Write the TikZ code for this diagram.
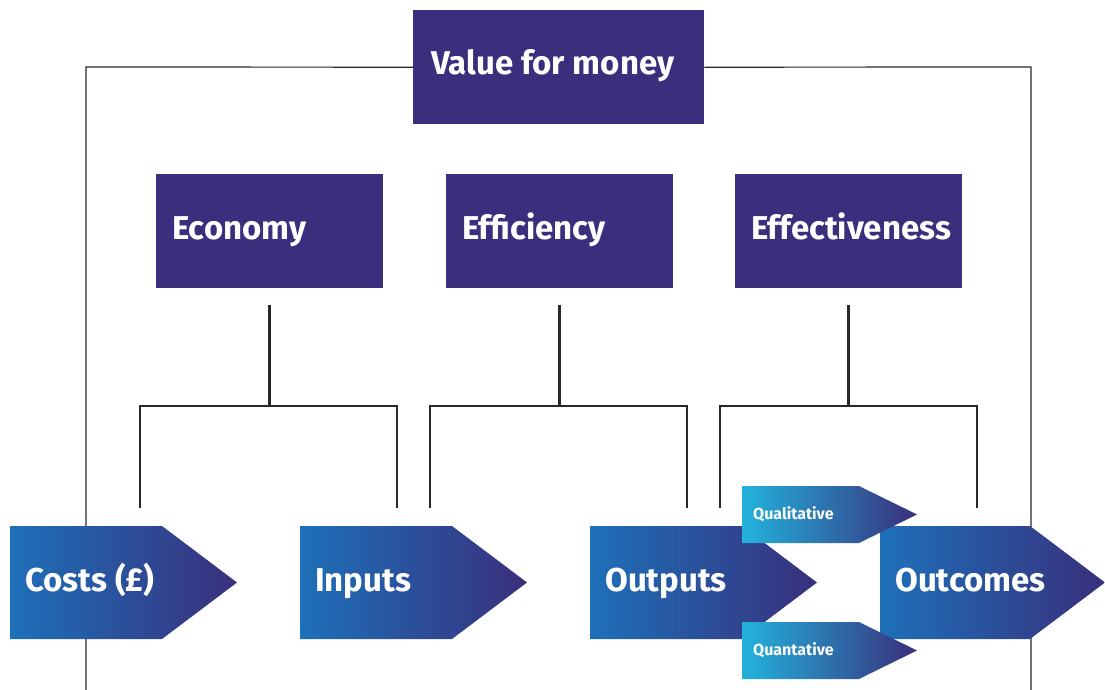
\documentclass[tikz,border=0pt]{standalone}
\usepackage{fontspec}
\setmainfont{Fira Sans}
\usetikzlibrary{calc}
\definecolor{vfmpurple}{RGB}{57,47,124}
\definecolor{arrowblue}{RGB}{30,112,185}
\definecolor{arrowcyan}{RGB}{34,178,220}
\definecolor{framegray}{RGB}{40,40,40}
\tikzset{
  headbox/.style={fill=vfmpurple, inner sep=0pt, minimum width=227pt,
    minimum height=114pt, anchor=north west},
  bigtext/.style={text=white, anchor=base west, inner sep=0pt,
    font=\fontsize{33}{38}\selectfont\bfseries},
  smalltext/.style={text=white, anchor=base west, inner sep=0pt,
    font=\fontsize{16}{19}\selectfont\bfseries},
  frameline/.style={draw=framegray, line width=1.2pt},
  conn/.style={draw=framegray, line width=2.4pt},
  bigarrow/.style={left color=arrowblue, right color=vfmpurple},
  smallarrow/.style={left color=arrowcyan, right color=vfmpurple},
}
% pentagon arrow: left edge x, top y, body length, tip length, height
\newcommand{\chevronpath}[5]{(#1,#2) -- ++(#3,0) -- ++(#4,#5/2) -- ++(-#4,#5/2) -- ++(-#3,0) -- cycle}
\begin{document}
\begin{tikzpicture}[x=1pt,y=-1pt]
\useasboundingbox (0,0) rectangle (1105,690);

% top box and the outer frame
\node[headbox, minimum width=291pt] (vfm) at (413,10) {};
\node[bigtext] (vfmtext) at ($(vfm.north west)+(18,65)$) {Value for money};
\coordinate (frameTL) at (86,67);
\coordinate (frameTR) at (1031,67);
\coordinate (frameBL) at (86,690);
\coordinate (frameBR) at (1031,690);
\draw[frameline] (vfm.west) -- (frameTL) -- (frameBL);
\draw[frameline] (vfm.east) -- (frameTR) -- (frameBR);

% the three Es
\node[headbox] (eco) at (156,174) {};
\node[headbox] (eff) at (446,174) {};
\node[headbox] (efv) at (735,174) {};
\node[bigtext] (ecotext) at ($(eco.north west)+(16,65)$) {Economy};
\node[bigtext] (efftext) at ($(eff.north west)+(16,65)$) {Efficiency};
\node[bigtext] (efvtext) at ($(efv.north west)+(16,65)$) {Effectiveness};

% bracket connectors
\coordinate (ecoStem) at (269.5,305);
\coordinate (ecoJoin) at (269.5,406);
\coordinate (costsEnd) at (140,508);
\coordinate (inputsEnd) at (397,508);
\coordinate (effStem) at (559.5,305);
\coordinate (effJoin) at (559.5,406);
\coordinate (inputsEnd2) at (430,508);
\coordinate (outputsEnd) at (687,508);
\coordinate (efvStem) at (848.5,305);
\coordinate (efvJoin) at (848.5,406);
\coordinate (outputsEnd2) at (720,508);
\coordinate (outcomesEnd) at (977,508);

\draw[conn] (ecoStem) -- (ecoJoin);
\draw[conn] (costsEnd) |- (ecoJoin) -| (inputsEnd);
\draw[conn] (effStem) -- (effJoin);
\draw[conn] (inputsEnd2) |- (effJoin) -| (outputsEnd);
\draw[conn] (efvStem) -- (efvJoin);
\draw[conn] (outputsEnd2) |- (efvJoin) -| (outcomesEnd);

% process arrows
\shade[bigarrow] \chevronpath{10}{526}{152}{75}{113};
\shade[bigarrow] \chevronpath{300}{526}{152}{75}{113};
\shade[bigarrow] \chevronpath{590}{526}{152}{75}{113};
\shade[bigarrow] \chevronpath{880}{526}{150}{75}{113};
\node[bigtext] (costs) at (25,591) {Costs (£)};
\node[bigtext] (inputs) at (315,591) {Inputs};
\node[bigtext] (outputs) at (605,591) {Outputs};
\node[bigtext] (outcomes) at (895,591) {Outcomes};

% output sub-types
\shade[smallarrow] \chevronpath{742}{486}{117}{58}{57};
\shade[smallarrow] \chevronpath{742}{622}{117}{58}{57};
\node[smalltext] (qual) at (753,519) {Qualitative};
\node[smalltext] (quant) at (753,655) {Quantative};
\end{tikzpicture}
\end{document}
